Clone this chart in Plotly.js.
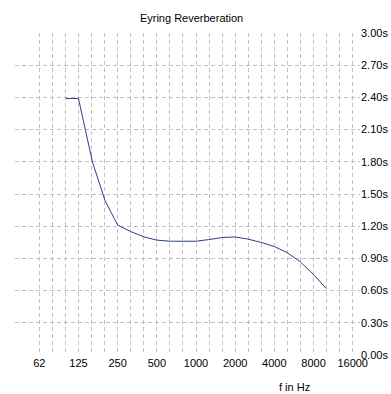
<!DOCTYPE html>
<html>
<head>
<meta charset="utf-8">
<script src="https://cdn.plot.ly/plotly-3.0.1.min.js"></script>
<style>html,body{margin:0;padding:0;background:#fff;}#chart{width:391px;height:394px;}</style>
</head>
<body>
<div id="chart"></div>
<script>
// Data
const freqs = [100, 125, 160, 200, 250, 315, 400, 500, 630, 800, 1000, 1250, 1600, 2000, 2500, 3150, 4000, 5000, 6300, 8000, 10000];
const rt60 = [2.39, 2.39, 1.80, 1.44, 1.21, 1.15, 1.10, 1.07, 1.06, 1.06, 1.06, 1.075, 1.095, 1.10, 1.08, 1.05, 1.01, 0.955, 0.87, 0.75, 0.62];
const gridFreqs = [62.5, 80, 100, 125, 160, 200, 250, 315, 400, 500, 630, 800, 1000, 1250, 1600, 2000, 2500, 3150, 4000, 5000, 6300, 8000, 10000, 12500, 16000];
const octaveLabels = {62.5: '62', 125: '125', 250: '250', 500: '500', 1000: '1000', 2000: '2000', 4000: '4000', 8000: '8000', 16000: '16000'};
const yTicks = [0, 0.3, 0.6, 0.9, 1.2, 1.5, 1.8, 2.1, 2.4, 2.7, 3.0];

const gridTickvals = gridFreqs.map((f, i) => 62.5 * Math.pow(2, i / 3));
const gridTicktext = gridFreqs.map(f => octaveLabels[f] || '');
const font = {family: 'Liberation Sans, Arial, sans-serif', size: 11, color: '#000'};

Plotly.newPlot('chart', [{
  x: freqs, y: rt60, type: 'scatter', mode: 'lines',
  line: {color: '#2b3f97', width: 1},
  hoverinfo: 'skip'
}], {
  width: 391, height: 394,
  margin: {l: 15, r: 31, t: 33, b: 39},
  paper_bgcolor: '#fff', plot_bgcolor: '#fff',
  showlegend: false,
  font: font,
  title: {text: 'Eyring Reverberation', font: font, x: 0.49, xanchor: 'center', y: 0.955, yanchor: 'middle'},
  xaxis: {
    type: 'log', range: [1.6092, 4.2602],
    tickmode: 'array', tickvals: gridTickvals, ticktext: gridTicktext,
    showgrid: true, gridcolor: '#c0c0c0', griddash: '4px,3px', gridwidth: 1,
    zeroline: false, showline: false, ticks: '', tickfont: font, ticklen: 0
  },
  yaxis: {
    range: [0, 3.0], side: 'right',
    tickmode: 'array', tickvals: yTicks, ticktext: yTicks.map(v => v.toFixed(2) + 's'),
    showgrid: true, gridcolor: '#c0c0c0', griddash: '4px,3px', gridwidth: 1,
    zeroline: false, showline: false, ticks: '', tickfont: font
  },
  annotations: [{
    text: 'f in Hz', xref: 'paper', yref: 'paper', x: 0.81, y: -0.1, xanchor: 'center', yanchor: 'middle',
    showarrow: false, font: font
  }]
}, {displayModeBar: false, staticPlot: true});
</script>
</body>
</html>
